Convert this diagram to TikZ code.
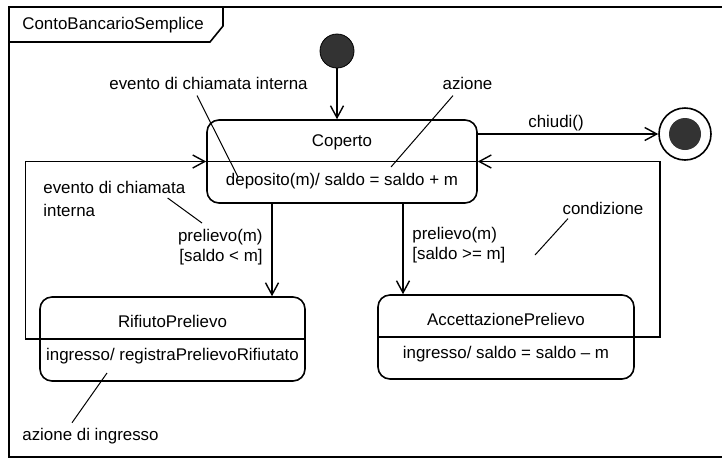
\documentclass[tikz,border=0pt]{standalone}
\usepackage{fontspec}
\setmainfont{Liberation Sans}
\usetikzlibrary{arrows.meta}
\colorlet{pallino}{black!80}
\tikzset{
  state/.style={draw,line width=0.8pt,rounded corners=6pt,inner sep=0pt},
  trans/.style={-{Straight Barb[length=6pt,width=6.5pt,line width=0.7pt]},line width=0.7pt},
  note/.style={line width=0.5pt},
  txt/.style={inner sep=0pt,font=\fontsize{8.45}{10}\selectfont},
}

\begin{document}
\begin{tikzpicture}[x=0.5pt,y=-0.5pt]
    \useasboundingbox (0,0) rectangle (722,462);
    % frame and tab
    \draw [line width=0.8pt] (722,7) -- (9,7) -- (9,457) -- (722,457);
    \draw [line width=0.8pt] (9,42) -- (210,42) -- (223,26) -- (223,7);
    \node [txt,anchor=west] (titolo) at (22,25) {ContoBancarioSemplice};

    % states
    \node [state,minimum width=135pt,minimum height=41.5pt] (coperto) at (342,161.5) {};
    \node [state,minimum width=132.5pt,minimum height=42pt] (rifiuto) at (172.5,339) {};
    \node [state,minimum width=128pt,minimum height=42pt] (accetta) at (506,337) {};
    \foreach \s in {coperto,rifiuto,accetta}
      \draw [line width=0.8pt] (\s.west) -- (\s.east);
    \node [txt] (coperto-nome) at ([yshift=9.5pt]coperto.center) {Coperto};
    \node [txt] (coperto-att) at ([yshift=-10pt]coperto.center) {deposito(m)/ saldo = saldo + m};
    \node [txt] (rifiuto-nome) at ([yshift=9pt]rifiuto.center) {RifiutoPrelievo};
    \node [txt] (rifiuto-att) at ([yshift=-8.5pt]rifiuto.center) {ingresso/ registraPrelievoRifiutato};
    \node [txt] (accetta-nome) at ([yshift=9pt]accetta.center) {AccettazionePrelievo};
    \node [txt] (accetta-att) at ([yshift=-8.5pt]accetta.center) {ingresso/ saldo = saldo -- m};

    % pseudo states
    \node [circle,fill=pallino,draw,minimum size=17pt,inner sep=0pt] (init) at (337,51) {};
    \node [circle,draw,line width=0.8pt,minimum size=26pt,inner sep=0pt] (fine) at (685,134) {};
    \node [circle,fill=pallino,minimum size=16pt,inner sep=0pt] (fine-in) at (fine) {};

    % transitions
    \draw [trans] (init) -- (init |- coperto.north);
    \draw [trans] (coperto.east |- fine) -- (fine);
    \node [txt] (chiudi) at (556,123) {chiudi()};
    \draw [trans] (accetta.east) -- ++(25,0) |- (coperto.east);
    \draw [trans] (rifiuto.west) -- ++(-14,0) |- (coperto.west);
    \draw [trans] (272,0 |- coperto.south) -- (272,0 |- rifiuto.north);
    \draw [trans] (403,0 |- coperto.south) -- (403,0 |- accetta.north);
    \node [txt,anchor=east,align=right] (guardia-no) at (263,247) {prelievo(m)\\{[saldo < m]}};
    \node [txt,anchor=west,align=left] (guardia-si) at (412,245) {prelievo(m)\\{[saldo >= m]}};

    % notes
    \coordinate (p-evento) at (238,177);
    \coordinate (p-azione) at (391,167);
    \coordinate (p-evento2) at (202,223);
    \coordinate (p-cond) at (535,255);
    \coordinate (p-ingresso) at (107,373);
    \node [txt] (nota-evento) at (208.5,83) {evento di chiamata interna};
    \node [txt] (nota-azione) at (467.5,83) {azione};
    \node [txt,anchor=north west,align=left,font=\fontsize{8.45}{11.5}\selectfont]
      (nota-evento2) at (43,181) {evento di chiamata\\interna};
    \node [txt] (nota-cond) at (603,208) {condizione};
    \node [txt,anchor=west] (nota-ingresso) at (22,436) {azione di ingresso};
    \draw [note] ([shift={(-5.75pt,-3pt)}]nota-evento.south) -- (p-evento);
    \draw [note] ([shift={(-7.25pt,-3pt)}]nota-azione.south) -- (p-azione);
    \draw [note] ([shift={(-9pt,-8.5pt)}]nota-evento2.north east) -- (p-evento2);
    \draw [note] ([shift={(-17.5pt,-2pt)}]nota-cond.south) -- (p-cond);
    \draw [note] ([shift={(25pt,2.5pt)}]nota-ingresso.north west) -- (p-ingresso);
\end{tikzpicture}
\end{document}
